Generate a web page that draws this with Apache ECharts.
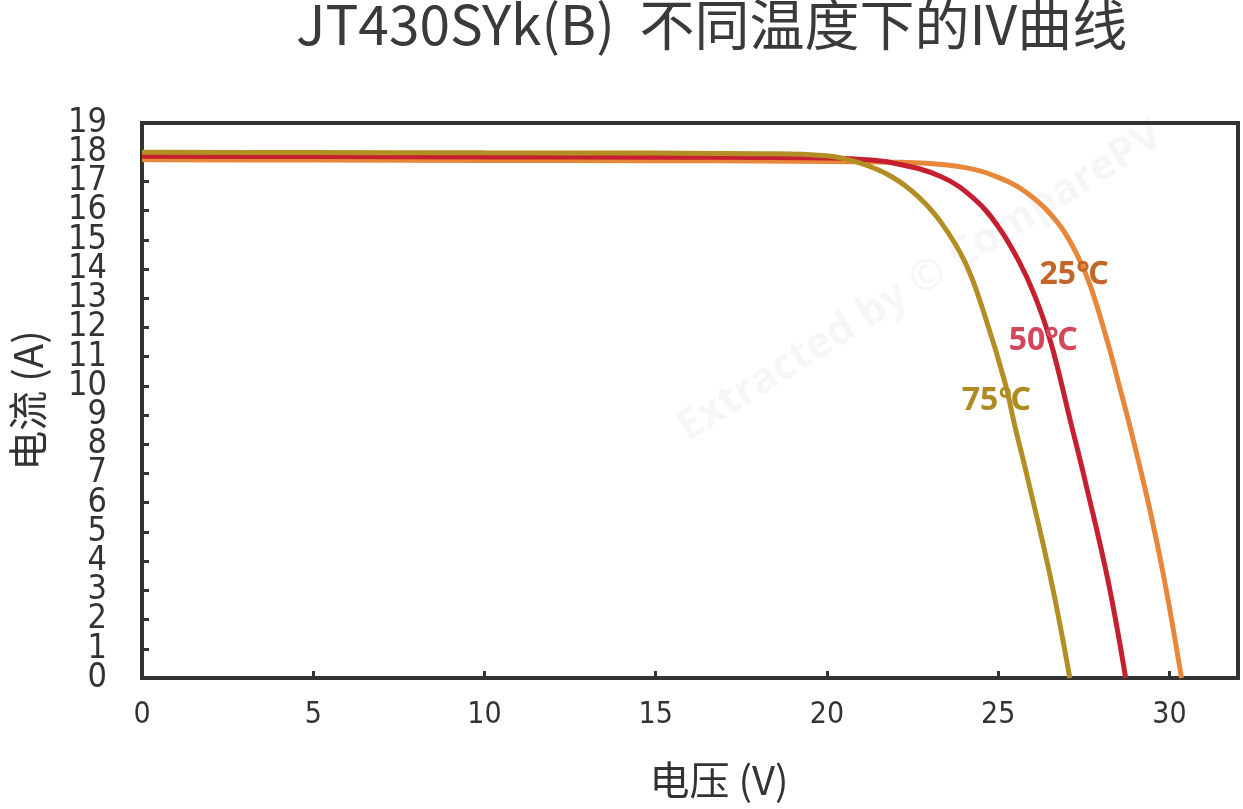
<!DOCTYPE html>
<html>
<head>
<meta charset="utf-8">
<script src="https://cdn.jsdelivr.net/npm/echarts@6/dist/echarts.min.js"></script>
<style>
  html, body { margin: 0; padding: 0; background: #fff; }
  #chart { width: 1243px; height: 809px; }
</style>
</head>
<body>
<div id="chart"></div>
<script>
// IV curves (voltage V, current A)
const v25 = [0, 5, 10, 15, 18, 20, 22, 22.9, 24.0, 24.8, 25.8, 26.74, 27.33, 27.7, 28.2, 28.49, 28.87, 29.4, 29.85, 30.35]
const i25 = [17.74, 17.73, 17.72, 17.71, 17.70, 17.68, 17.66, 17.62, 17.48, 17.23, 16.64, 15.58, 14.42, 13.39, 11.47, 10.2, 8.49, 5.9, 3.36, 0]

const v50 = [0, 5, 10, 15, 18, 20, 20.9, 21.9, 23.34, 24.33, 25.0, 25.58, 26.08, 26.54, 27.12, 27.53, 28.2, 28.72]
const i50 = [17.86, 17.85, 17.84, 17.83, 17.82, 17.80, 17.76, 17.64, 17.16, 16.37, 15.45, 14.32, 13.05, 11.47, 8.73, 6.78, 3.36, 0]

const v75 = [0, 5, 10, 15, 18, 19.97, 20.93, 21.89, 22.67, 23.34, 24.04, 24.62, 25.2, 25.49, 25.87, 26.54, 27.09]
const i75 = [18.0, 17.99, 17.98, 17.97, 17.95, 17.88, 17.64, 17.16, 16.47, 15.58, 14.21, 12.36, 10.10, 8.60, 6.78, 3.36, 0]

const tempNames = ['25℃', '50℃', '75℃']
// where each temperature label sits, in data units
const labelPos = [[27.21, 13.8], [26.31, 11.54], [24.94, 9.49]]

// y range ends, labelled by a second (label-only) axis so echarts doesn't drop 1 and 18
const yEnds = [0, 19]

const lineColors = ['#e8873a', '#c61f30', '#b38e24']
const labelColors = ['#c4662a', '#d4475a', '#b08a22']

const narrow = '"Liberation Sans Narrow", "DejaVu Sans Condensed", "Roboto Condensed", "Liberation Sans", sans-serif'

const pairs = (xs, ys) => xs.map((x, k) => [x, ys[k]])
const curves = [pairs(v25, i25), pairs(v50, i50), pairs(v75, i75)]

const yLabelStyle = {
  margin: 35,
  fontFamily: narrow,
  fontSize: 34,
  color: '#333'
}

const myChart = echarts.init(document.getElementById('chart'))

myChart.setOption({
  animation: false,
  title: {
    text: 'JT430SYk(B)  不同温度下的IV曲线',
    left: 291,
    top: -8,
    textStyle: {
      fontFamily: 'Noto Sans CJK SC',
      fontSize: 55,
      fontWeight: 'normal',
      color: '#3a3a3a'
    }
  },
  graphic: [
    {
      // faint watermark
      type: 'text',
      x: 920,
      y: 282,
      rotation: 0.56,
      z: 0,
      style: {
        text: 'Extracted by © ComparePV',
        font: 'bold 42px "Open Sans"',
        fill: 'rgba(0,0,0,0.035)',
        align: 'center',
        verticalAlign: 'middle'
      }
    }
  ],
  grid: {
    left: 140,
    right: 5,
    top: 123,
    bottom: 131,
    show: true,
    borderWidth: 4,
    borderColor: '#333'
  },
  xAxis: {
    type: 'value',
    min: 0,
    max: 32,
    interval: 5,
    name: '电压 (V)',
    nameLocation: 'middle',
    nameGap: 82,
    nameTextStyle: {
      fontFamily: 'Noto Sans CJK SC',
      fontSize: 40,
      color: '#333',
      padding: [0, 0, 0, 58]
    },
    axisLine: { show: true, lineStyle: { color: '#333', width: 4 } },
    axisTick: { show: true, inside: true, length: 7, lineStyle: { color: '#333', width: 3 } },
    axisLabel: {
      showMaxLabel: false,
      margin: 22,
      fontFamily: narrow,
      fontSize: 30,
      color: '#333'
    },
    splitLine: { show: false }
  },
  yAxis: [
    {
      type: 'value',
      min: 0,
      max: 19,
      interval: 1,
      name: '电流 (A)',
      nameLocation: 'middle',
      nameGap: 94,
      nameRotate: 90,
      nameTextStyle: {
        fontFamily: 'Noto Sans CJK SC',
        fontSize: 40,
        color: '#333'
      },
      axisLine: { show: true, lineStyle: { color: '#333', width: 4 } },
      axisTick: { show: true, inside: true, length: 7, lineStyle: { color: '#333', width: 3 } },
      axisLabel: Object.assign({ showMinLabel: false, showMaxLabel: false }, yLabelStyle),
      splitLine: { show: false }
    },
    {
      type: 'value',
      position: 'left',
      min: 0,
      max: 19,
      interval: 1,
      axisLine: { show: false },
      axisTick: { show: false },
      splitLine: { show: false },
      axisLabel: Object.assign({
        showMinLabel: true,
        showMaxLabel: true,
        formatter: v => (yEnds.includes(v) ? String(v) : '')
      }, yLabelStyle)
    }
  ],
  series: curves.map((data, k) => ({
    name: tempNames[k],
    type: 'line',
    data: data,
    smooth: 0.4,
    showSymbol: false,
    lineStyle: { color: lineColors[k], width: 5 },
    itemStyle: { color: lineColors[k] },
    z: 2 + k,
    markPoint: {
      symbol: 'rect',
      symbolSize: 1,
      itemStyle: { color: 'rgba(0,0,0,0)' },
      label: {
        show: true,
        position: 'inside',
        formatter: tempNames[k],
        fontFamily: 'Noto Sans',
        fontWeight: 'bold',
        fontSize: 32,
        color: labelColors[k]
      },
      data: [{ coord: labelPos[k] }]
    }
  }))
})
</script>
</body>
</html>
